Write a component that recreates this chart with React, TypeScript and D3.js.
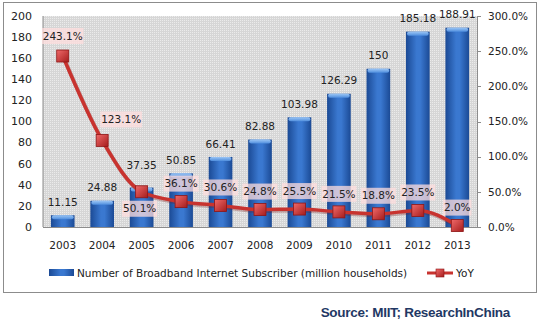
import React from "react";
import * as d3 from "d3";

const years = ["2003","2004","2005","2006","2007","2008","2009","2010","2011","2012","2013"];
const subscribers = [11.15, 24.88, 37.35, 50.85, 66.41, 82.88, 103.98, 126.29, 150, 185.18, 188.91];
const subscriberLabels = ["11.15","24.88","37.35","50.85","66.41","82.88","103.98","126.29","150","185.18","188.91"];
const yoy = [2.431, 1.231, 0.501, 0.361, 0.306, 0.248, 0.255, 0.215, 0.188, 0.235, 0.02];
const leftTicks = [0, 20, 40, 60, 80, 100, 120, 140, 160, 180, 200];
const rightTicks = [0, 0.5, 1, 1.5, 2, 2.5, 3];
const barSeriesName = "Number of Broadband Internet Subscriber (million households)";
const lineSeriesName = "YoY";
const sourceText = "Source: MIIT; ResearchInChina";

const W = 542, H = 321;
const plot = { left: 43, right: 477, top: 16, bottom: 227 };
const FONT = "'DejaVu Sans', Verdana, sans-serif";

// label placement tweaks (dx, dy relative to default placement)
const pctLabelOffset: Record<number, [number, number]> = {
  0: [0, -20],
  1: [19, -21],
  2: [-2, 17],
};

export default function App() {
  const x = d3.scaleBand<string>().domain(years).range([plot.left, plot.right]).paddingInner(0.4).paddingOuter(0.2);
  const yL = d3.scaleLinear().domain([0, 200]).range([plot.bottom, plot.top]);
  const yR = d3.scaleLinear().domain([0, 3]).range([plot.bottom, plot.top]);
  const pctFmt = d3.format(".1%");
  const bw = x.bandwidth();
  const cx = (y: string) => (x(y) as number) + bw / 2;

  const line = d3.line<number>().x((_, i) => cx(years[i])).y((v) => yR(v)).curve(d3.curveMonotoneX);

  return (
    <svg width={W} height={H} style={{ position: "absolute", left: 0, top: 0, background: "#fff" }}>
      <defs>
        <linearGradient id="barGrad" x1="0" x2="1" y1="0" y2="0">
          <stop offset="0" stopColor="#1b4a95" />
          <stop offset="0.45" stopColor="#3a78d0" />
          <stop offset="0.6" stopColor="#3a78d0" />
          <stop offset="1" stopColor="#1b4a95" />
        </linearGradient>
        <linearGradient id="capGrad" x1="0" x2="0" y1="0" y2="1">
          <stop offset="0" stopColor="#9cc6f5" />
          <stop offset="1" stopColor="#4f8ede" />
        </linearGradient>
        <linearGradient id="mkGrad" x1="0" x2="1" y1="0" y2="1">
          <stop offset="0" stopColor="#f06a6a" />
          <stop offset="1" stopColor="#a51c1c" />
        </linearGradient>
        <pattern id="dither" width="2" height="2" patternUnits="userSpaceOnUse">
          <rect width="2" height="2" fill="#d6d6d6" />
          <rect width="1" height="1" fill="#ebebeb" />
        </pattern>
      </defs>

      {/* outer border */}
      <rect x={3.5} y={2.5} width={533} height={290} fill="#fff" stroke="#8c8c8c" />

      {/* plot area */}
      <rect x={plot.left} y={plot.top} width={plot.right - plot.left} height={plot.bottom - plot.top} fill="url(#dither)" />
      <line x1={plot.left} x2={plot.left} y1={plot.top} y2={plot.bottom} stroke="#8c8c8c" />
      <line x1={plot.left} x2={plot.right} y1={plot.bottom + 0.5} y2={plot.bottom + 0.5} stroke="#8c8c8c" />
      <line x1={plot.right + 0.5} x2={plot.right + 0.5} y1={plot.top} y2={plot.bottom} stroke="#8c8c8c" />

      {/* left axis labels */}
      {leftTicks.map((t) => (
        <text key={"l" + t} x={32} y={yL(t)} dy="0.35em" textAnchor="end" fontFamily={FONT} fontSize={11} fill="#222">
          {t}
        </text>
      ))}
      {/* right axis */}
      {rightTicks.map((t) => (
        <g key={"r" + t}>
          <line x1={plot.right} x2={plot.right + 4} y1={Math.round(yR(t)) + 0.5} y2={Math.round(yR(t)) + 0.5} stroke="#8c8c8c" />
          <text x={488} y={yR(t)} dy="0.35em" fontFamily={FONT} fontSize={10.5} fill="#222">
            {pctFmt(t)}
          </text>
        </g>
      ))}
      {/* x labels */}
      {years.map((yr) => (
        <text key={"x" + yr} x={cx(yr)} y={245} dy="0.35em" textAnchor="middle" fontFamily={FONT} fontSize={10.5} fill="#222">
          {yr}
        </text>
      ))}

      {/* bars */}
      {subscribers.map((v, i) => {
        const x0 = x(years[i]) as number;
        const top = yL(v);
        return (
          <g key={"b" + i}>
            <rect x={x0} y={top} width={bw} height={plot.bottom - top} fill="url(#barGrad)" />
            <rect x={x0 + 1} y={top} width={bw - 2} height={4} rx={2} fill="url(#capGrad)" />
          </g>
        );
      })}
      {/* bar value labels */}
      {subscribers.map((v, i) => (
        <text key={"bl" + i} x={cx(years[i])} y={yL(v) - (i === 2 ? 22 : 13)} dy="0.35em" textAnchor="middle" fontFamily={FONT} fontSize={10.5} fill="#222">
          {subscriberLabels[i]}
        </text>
      ))}

      {/* line */}
      <path d={line(yoy) || ""} fill="none" stroke="#7a1a1a" strokeOpacity={0.3} strokeWidth={4} transform="translate(1,1.5)" />
      <path d={line(yoy) || ""} fill="none" stroke="#c8332f" strokeWidth={3.5} strokeLinejoin="round" />
      {yoy.map((v, i) => (
        <rect key={"m" + i} x={cx(years[i]) - 6} y={yR(v) - 6} width={12} height={12} fill="url(#mkGrad)" stroke="#8e1515" strokeWidth={0.8} />
      ))}

      {/* percent labels */}
      {yoy.map((v, i) => {
        const off = pctLabelOffset[i] || [0, -18];
        const tx = cx(years[i]) + off[0];
        const ty = yR(v) + off[1];
        const label = pctFmt(v);
        const w = label.length * 6.6 + 2;
        return (
          <g key={"pl" + i}>
            <rect x={tx - w / 2} y={ty - 8} width={w} height={16} fill="#ffdede" fillOpacity={0.75} />
            <text x={tx} y={ty} dy="0.35em" textAnchor="middle" fontFamily={FONT} fontSize={10.5} fill="#222">
              {label}
            </text>
          </g>
        );
      })}

      {/* legend */}
      <rect x={49} y={269} width={25} height={7} fill="url(#barGrad)" />
      <text x={77} y={273} dy="0.35em" fontFamily={FONT} fontSize={10.5} fill="#222">{barSeriesName}</text>
      <line x1={427} x2={453} y1={273} y2={273} stroke="#c8332f" strokeWidth={3} />
      <rect x={436} y={269} width={8} height={8} fill="url(#mkGrad)" stroke="#8e1515" strokeWidth={0.6} />
      <text x={456} y={273} dy="0.35em" fontFamily={FONT} fontSize={10.5} fill="#222">{lineSeriesName}</text>

      {/* source */}
      <text x={510} y={312} dy="0.35em" textAnchor="end" fontFamily="'Liberation Sans', Arial, sans-serif" fontWeight="bold" fontSize={13.5} letterSpacing={-0.3} fill="#1f3864">
        {sourceText}
      </text>
    </svg>
  );
}
